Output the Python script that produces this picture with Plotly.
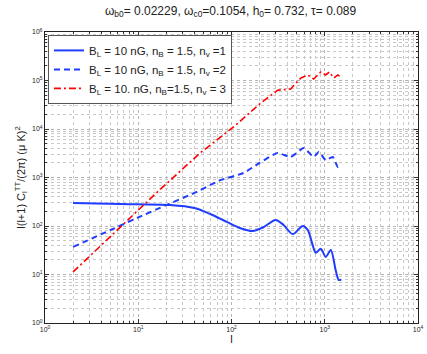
import plotly.graph_objects as go

# l(l+1) C_l^TT / 2pi curves
l_nv1 = [2, 6.4, 22, 40, 60, 90, 125, 168, 221, 297, 362, 453, 580, 656, 730, 800, 906, 1025, 1161, 1313, 1415, 1500]
c_nv1 = [298, 284, 271, 235, 175, 120, 90, 79, 95, 133, 105, 68, 100, 83, 45, 28, 34, 23, 32, 12, 7.7, 7.9]

l_nv2 = [2, 5, 10, 20, 40, 76, 135, 200, 312, 431, 594, 762, 862, 1025, 1219, 1380, 1487]
c_nv2 = [37, 82, 150, 270, 480, 880, 1240, 2000, 3200, 2650, 4050, 2650, 3360, 2290, 2650, 1645, 1810]

l_nv3 = [2, 16, 46, 105, 205, 312, 431, 552, 656, 762, 906, 1025, 1120, 1250, 1380, 1487]
c_nv3 = [11.3, 500, 3200, 11000, 34000, 63000, 67000, 112000, 130000, 107000, 150000, 130000, 150000, 112000, 130000, 118000]

names = [
    "B<sub>L</sub> = 10 nG, n<sub>B</sub> = 1.5, n<sub>v</sub> =1",
    "B<sub>L</sub> = 10 nG, n<sub>B</sub> = 1.5, n<sub>v</sub> =2",
    "B<sub>L</sub> = 10. nG, n<sub>B</sub>=1.5, n<sub>v</sub> = 3",
]

x_ticks = [1, 10, 100, 1000, 10000]
x_labels = ["10<sup>0</sup>", "10<sup>1</sup>", "10<sup>2</sup>", "10<sup>3</sup>", "10<sup>4</sup>"]
y_ticks = [1, 10, 100, 1000, 10000, 100000, 1000000]
y_labels = ["10<sup>%d</sup>" % i for i in range(7)]

fig = go.Figure()
fig.add_trace(go.Scatter(x=l_nv1, y=c_nv1, mode="lines", name=names[0],
                         line=dict(color="#1f3cff", width=2, shape="spline", smoothing=0.8)))
fig.add_trace(go.Scatter(x=l_nv2, y=c_nv2, mode="lines", name=names[1],
                         line=dict(color="#1f3cff", width=2, dash="6px,4px", shape="spline", smoothing=0.5)))
fig.add_trace(go.Scatter(x=l_nv3, y=c_nv3, mode="lines", name=names[2],
                         line=dict(color="#ff0000", width=1.6, dash="7px,3px,2px,3px")))

grid = dict(showgrid=True, gridcolor="#b4b4b4", griddash="dot", gridwidth=1)
minor = dict(dtick="D1", ticks="inside", ticklen=2, tickcolor="#333",
             showgrid=True, gridcolor="#c8c8c8", griddash="dot", gridwidth=1)

fig.update_xaxes(type="log", range=[0, 4], tickvals=x_ticks, ticktext=x_labels,
                 ticks="inside", ticklen=4, tickcolor="#333", showline=True, mirror="ticks",
                 linecolor="#222", linewidth=1, zeroline=False, minor=minor, automargin=False,
                 tickfont=dict(size=7, color="#222"),
                 title=dict(text="l", font=dict(size=11, color="#222"), standoff=0), **grid)
fig.update_yaxes(type="log", range=[0, 6], tickvals=y_ticks, ticktext=y_labels,
                 ticks="inside", ticklen=4, tickcolor="#333", showline=True, mirror="ticks",
                 linecolor="#222", linewidth=1, zeroline=False, minor=minor, automargin=False,
                 tickfont=dict(size=7, color="#222"),
                 title=dict(text="l(l+1) C<sub>l</sub><sup>TT</sup>/(2π) (μ K)<sup>2</sup>",
                            font=dict(size=11, color="#222"), standoff=4), **grid)

fig.update_layout(
    width=427, height=354,
    margin=dict(l=45, r=9, t=32, b=31),
    paper_bgcolor="white", plot_bgcolor="white",
    font=dict(family="Liberation Sans, Arial, sans-serif", color="#222"),
    title=dict(text="ω<sub>b0</sub>= 0.02229, ω<sub>c0</sub>=0.1054, h<sub>0</sub>= 0.732, τ= 0.089",
               x=0.54, xanchor="center", y=0.97, yanchor="middle", font=dict(size=12),
               automargin=False),
    legend=dict(x=0.008, y=0.99, xanchor="left", yanchor="top", bgcolor="white",
                bordercolor="#555", borderwidth=1, font=dict(size=11.5), tracegroupgap=0),
    showlegend=True,
)

# page body has a default 8px margin; drop it so the figure sits at the window's corner
fig.write_html("out.html", config={"displayModeBar": False},
               post_script="document.body.style.margin='0';")
